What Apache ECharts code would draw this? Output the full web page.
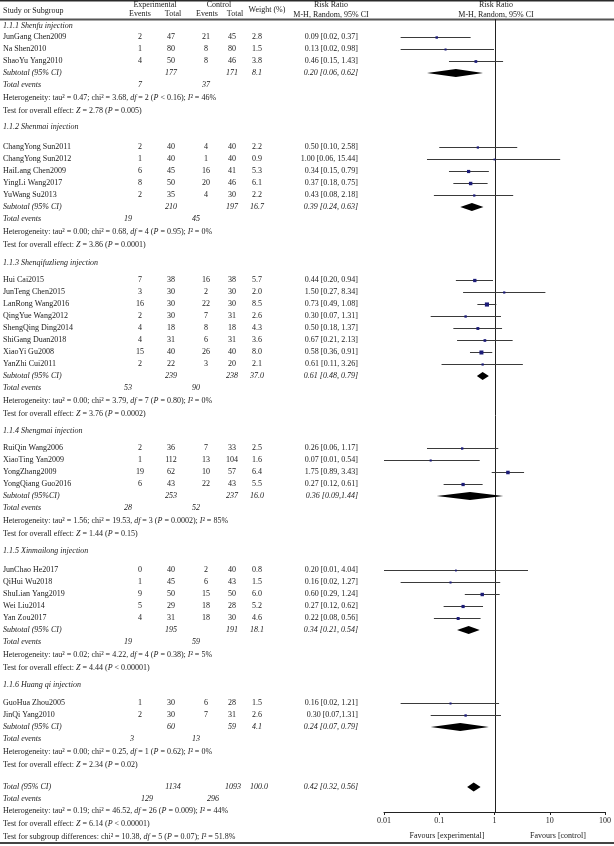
<!DOCTYPE html>
<html><head><meta charset="utf-8">
<script src="https://cdn.jsdelivr.net/npm/echarts@6/dist/echarts.min.js"></script>
<style>html,body{margin:0;padding:0;background:#fff}#c{width:614px;height:846px}</style>
</head><body><div id="c"></div>
<script>
// ---------------- DATA ----------------
const groupNames = ['1.1.1 Shenfu injection','1.1.2 Shenmai injection','1.1.3 Shenqifuzlieng injection','1.1.4 Shengmai injection','1.1.5 Xinmailong injection','1.1.6 Huang qi injection'];
const studyNames = ['JunGang Chen2009','Na Shen2010','ShaoYu Yang2010',
  'ChangYong Sun2011','ChangYong Sun2012','HaiLang Chen2009','YingLi Wang2017','YuWang Su2013',
  'Hui Cai2015','JunTeng Chen2015','LanRong Wang2016','QingYue Wang2012','ShengQing Ding2014','ShiGang Duan2018','XiaoYi Gu2008','YanZhi Cui2011',
  'RuiQin Wang2006','XiaoTing Yan2009','YongZhang2009','YongQiang Guo2016',
  'JunChao He2017','QiHui Wu2018','ShuLian Yang2019','Wei Liu2014','Yan Zou2017',
  'GuoHua Zhou2005','JinQi Yang2010'];
const studyGroup = [0,0,0, 1,1,1,1,1, 2,2,2,2,2,2,2,2, 3,3,3,3, 4,4,4,4,4, 5,5];
const expEvents = [2,1,4, 2,1,6,8,2, 7,3,16,2,4,4,15,2, 2,1,19,6, 0,1,9,5,4, 1,2];
const expTotal  = [47,80,50, 40,40,45,50,35, 38,30,30,30,18,31,40,22, 36,112,62,43, 40,45,50,29,31, 30,30];
const ctlEvents = [21,8,8, 4,1,16,20,4, 16,2,22,7,8,6,26,3, 7,13,10,22, 2,6,15,18,18, 6,7];
const ctlTotal  = [45,80,46, 40,40,41,46,30, 38,30,30,31,18,31,40,20, 33,104,57,43, 40,43,50,28,30, 28,31];
const weights   = [2.8,1.5,3.8, 2.2,0.9,5.3,6.1,2.2, 5.7,2.0,8.5,2.6,4.3,3.6,8.0,2.1, 2.5,1.6,6.4,5.5, 0.8,1.5,6.0,5.2,4.6, 1.5,2.6];
const rr        = [0.09,0.13,0.46, 0.50,1.00,0.34,0.37,0.43, 0.44,1.50,0.73,0.30,0.50,0.67,0.58,0.61, 0.26,0.07,1.75,0.27, 0.20,0.16,0.60,0.27,0.22, 0.16,0.30];
const rrLo      = [0.02,0.02,0.15, 0.10,0.06,0.15,0.18,0.08, 0.20,0.27,0.49,0.07,0.18,0.21,0.36,0.11, 0.06,0.01,0.89,0.12, 0.01,0.02,0.29,0.12,0.08, 0.02,0.07];
const rrHi      = [0.37,0.98,1.43, 2.58,15.44,0.79,0.75,2.18, 0.94,8.34,1.08,1.31,1.37,2.13,0.91,3.26, 1.17,0.54,3.43,0.61, 4.04,1.27,1.24,0.62,0.56, 1.21,1.31];
const compactCI = ['JinQi Yang2010'];

const subLabel     = ['Subtotal (95% CI)','Subtotal (95% CI)','Subtotal (95% CI)','Subtotal (95%CI)','Subtotal (95% CI)','Subtotal (95% CI)'];
const subExpTotal  = [177,210,239,253,195,60];
const subCtlTotal  = [171,197,238,237,191,59];
const subWeight    = [8.1,16.7,37.0,16.0,18.1,4.1];
const subRR        = [0.20,0.39,0.61,0.36,0.34,0.24];
const subLo        = [0.06,0.24,0.48,0.09,0.21,0.07];
const subHi        = [0.62,0.63,0.79,1.44,0.54,0.79];
const subCompact   = [false,false,false,true,false,false];
const subExpEvents = [7,19,53,28,19,3];
const subCtlEvents = [37,45,90,52,59,13];
const hetTau = ['0.47','0.00','0.00','1.56','0.02','0.00'];
const hetChi = ['3.68','0.68','3.79','19.53','4.22','0.25'];
const hetDf  = [2,4,7,3,4,1];
const hetP   = ['< 0.16','= 0.95','= 0.80','= 0.0002','= 0.38','= 0.62'];
const hetI2  = ['46','0','0','85','5','0'];
const testZ  = ['2.78','3.86','3.76','1.44','4.44','2.34'];
const testP  = ['= 0.005','= 0.0001','= 0.0002','= 0.15','< 0.00001','= 0.02'];

const totExpTotal = 1134, totCtlTotal = 1093, totWeight = 100.0;
const totRR = 0.42, totLo = 0.32, totHi = 0.56;
const totExpEvents = 129, totCtlEvents = 296;
const totHet = {tau:'0.19', chi:'46.52', df:26, p:'= 0.009', i2:'44'};
const totTest = {z:'6.14', p:'< 0.00001'};
const subDiff = {chi:'10.38', df:5, p:'= 0.07', i2:'51.8'};

const xTicks = [0.01,0.1,1,10,100];
const favours = ['Favours [experimental]','Favours [control]'];

// ---------------- LAYOUT ----------------
const FONT = '"Liberation Serif","Times New Roman",serif';
const FS = 8;
const COL = '#1a1a1a';
const hdrY = [26,127,263,431,551,685];
const firstGap = [11,20,17,17,19,18];
const STEP = 12;
const totEvX = [[140,206],[128,196],[128,196],[128,196],[128,196],[132,196]];
const X = {name:3, ee:140, et:171, ce:206, ct:232, w:257, rr:358};
const PLOT_TOP = 19, PLOT_BOT = 812;

const G = [];
function txt(x,y,s,align,italic){
  G.push({type:'text', x:x, y:y, silent:true, z:10, style:{text:String(s), fontFamily:FONT, fontSize:FS, fill:COL, align:align||'left', verticalAlign:'middle', fontStyle: italic?'italic':'normal'}});
}
function it(s){ return '{i|'+s+'}'; }
function rtxt(x,y,s){
  G.push({type:'text', x:x, y:y, silent:true, z:10, style:{text:s, fontFamily:FONT, fontSize:FS, fill:COL, align:'left', verticalAlign:'middle',
    rich:{i:{fontStyle:'italic', fontFamily:FONT, fontSize:FS, fill:COL, color:COL}}}});
}
function ciText(r,l,h,compact){ return r.toFixed(2)+' ['+l.toFixed(2)+','+(compact?'':' ')+h.toFixed(2)+']'; }
function hetText(t,c,d,p,i2){ return 'Heterogeneity: tau\u00B2 = '+t+'; chi\u00B2 = '+c+', '+it('df')+' = '+d+' ('+it('P')+' '+p+'); '+it('I')+'\u00B2 = '+i2+'%'; }
function testText(z,p){ return 'Test for overall effect: '+it('Z')+' = '+z+' ('+it('P')+' '+p+')'; }

// header
txt(3,11,'Study or Subgroup','left');
txt(155,5,'Experimental','center'); txt(140,14,'Events','center'); txt(173,14,'Total','center');
txt(219,5,'Control','center'); txt(207,14,'Events','center'); txt(235,14,'Total','center');
txt(267,10,'Weight (%)','center');
txt(331,5,'Risk Ratio','center'); txt(331,15,'M-H, Random, 95% CI','center');
txt(496,5,'Risk Ratio','center'); txt(496,15,'M-H, Random, 95% CI','center');

const studyData = [];
const diamondData = [];
for (let g=0; g<groupNames.length; g++){
  txt(X.name, hdrY[g], groupNames[g], 'left', true);
  let y = hdrY[g] + firstGap[g];
  for (let i=0;i<studyNames.length;i++){
    if (studyGroup[i]!==g) continue;
    txt(X.name,y,studyNames[i]);
    txt(X.ee,y,expEvents[i],'center'); txt(X.et,y,expTotal[i],'center');
    txt(X.ce,y,ctlEvents[i],'center'); txt(X.ct,y,ctlTotal[i],'center');
    txt(X.w,y,weights[i].toFixed(1),'center');
    txt(X.rr,y,ciText(rr[i],rrLo[i],rrHi[i],compactCI.indexOf(studyNames[i])>=0),'right');
    studyData.push([rr[i],rrLo[i],rrHi[i],y,weights[i]]);
    y += STEP;
  }
  txt(X.name,y,subLabel[g],'left',true);
  txt(X.et,y,subExpTotal[g],'center',true); txt(X.ct,y,subCtlTotal[g],'center',true);
  txt(X.w,y,subWeight[g].toFixed(1),'center',true);
  txt(X.rr,y,ciText(subRR[g],subLo[g],subHi[g],subCompact[g]),'right',true);
  diamondData.push([subRR[g],subLo[g],subHi[g],y,4]);
  y += STEP;
  txt(X.name,y,'Total events','left',true);
  txt(totEvX[g][0],y,subExpEvents[g],'center',true); txt(totEvX[g][1],y,subCtlEvents[g],'center',true);
  y += 13;
  rtxt(X.name,y,hetText(hetTau[g],hetChi[g],hetDf[g],hetP[g],hetI2[g]));
  y += 13;
  rtxt(X.name,y,testText(testZ[g],testP[g]));
}
// overall
let ty = 787;
txt(X.name,ty,'Total (95% CI)','left',true);
txt(173,ty,totExpTotal,'center',true); txt(233,ty,totCtlTotal,'center',true);
txt(259,ty,totWeight.toFixed(1),'center',true);
txt(X.rr,ty,ciText(totRR,totLo,totHi,false),'right',true);
diamondData.push([totRR,totLo,totHi,ty,4.5]);
ty += 12;
txt(X.name,ty,'Total events','left',true);
txt(147,ty,totExpEvents,'center',true); txt(213,ty,totCtlEvents,'center',true);
ty += 12;
rtxt(X.name,ty,hetText(totHet.tau,totHet.chi,totHet.df,totHet.p,totHet.i2));
ty += 13;
rtxt(X.name,ty,testText(totTest.z,totTest.p));
ty += 13;
rtxt(X.name,ty,'Test for subgroup differences: chi\u00B2 = '+subDiff.chi+', '+it('df')+' = '+subDiff.df+' ('+it('P')+' '+subDiff.p+'); '+it('I')+'\u00B2 = '+subDiff.i2+'%');

// favours
txt(447,836,favours[0],'center'); txt(558,836,favours[1],'center');

// rules
G.push({type:'rect', shape:{x:0,y:0,width:614,height:1.5}, style:{fill:'#2a2a2a'}, silent:true});
G.push({type:'rect', shape:{x:0,y:18.5,width:614,height:2}, style:{fill:'#555'}, silent:true});
G.push({type:'rect', shape:{x:0,y:842,width:614,height:2}, style:{fill:'#444'}, silent:true});

const chart = echarts.init(document.getElementById('c'), null, {renderer:'canvas'});
chart.setOption({
  animation:false,
  backgroundColor:'#fff',
  grid:{left:384, top:PLOT_TOP, width:225, height:PLOT_BOT-PLOT_TOP},
  xAxis:{type:'log', logBase:10, min:xTicks[0], max:xTicks[xTicks.length-1],
    axisLine:{lineStyle:{color:'#222',width:1}},
    axisTick:{length:3, lineStyle:{color:'#222'}},
    splitLine:{show:false},
    axisLabel:{fontFamily:FONT, fontSize:FS, color:COL, margin:5,
      formatter:function(v){ return v>=1 ? String(Math.round(v)) : String(+(+v).toPrecision(1)); }}},
  yAxis:{type:'value', min:PLOT_TOP, max:PLOT_BOT, inverse:true, show:false},
  series:[
    {type:'custom', silent:true, data:[[1]], encode:{x:0},
      renderItem:function(params,api){
        const a = api.coord([api.value(0),PLOT_TOP]), b = api.coord([api.value(0),PLOT_BOT]);
        const x = Math.round(a[0])+0.5;
        return {type:'line', shape:{x1:x,y1:a[1],x2:x,y2:b[1]}, style:{stroke:'#222', lineWidth:1}};
      }},
    {type:'custom', silent:true, data:studyData, encode:{x:0,y:3},
      renderItem:function(params,api){
        const y = api.value(3);
        const pl = api.coord([api.value(1),y]), ph = api.coord([api.value(2),y]), pc = api.coord([api.value(0),y]);
        const s = 1.6 + 0.3*api.value(4);
        const ly = Math.round(pl[1])+0.5;
        return {type:'group', children:[
          {type:'line', shape:{x1:pl[0],y1:ly,x2:ph[0],y2:ly}, style:{stroke:'#3a3a3a', lineWidth:1}},
          {type:'rect', shape:{x:pc[0]-s/2,y:ly-s/2,width:s,height:s}, style:{fill:'#1c1c78'}}
        ]};
      }},
    {type:'custom', silent:true, data:diamondData, encode:{x:0,y:3},
      renderItem:function(params,api){
        const y = api.value(3), h = api.value(4);
        const pl = api.coord([api.value(1),y]), ph = api.coord([api.value(2),y]), pc = api.coord([api.value(0),y]);
        return {type:'polygon', shape:{points:[[pl[0],pc[1]],[pc[0],pc[1]-h],[ph[0],pc[1]],[pc[0],pc[1]+h]]}, style:{fill:'#000'}};
      }}
  ],
  graphic:{elements:G}
});
</script></body></html>
